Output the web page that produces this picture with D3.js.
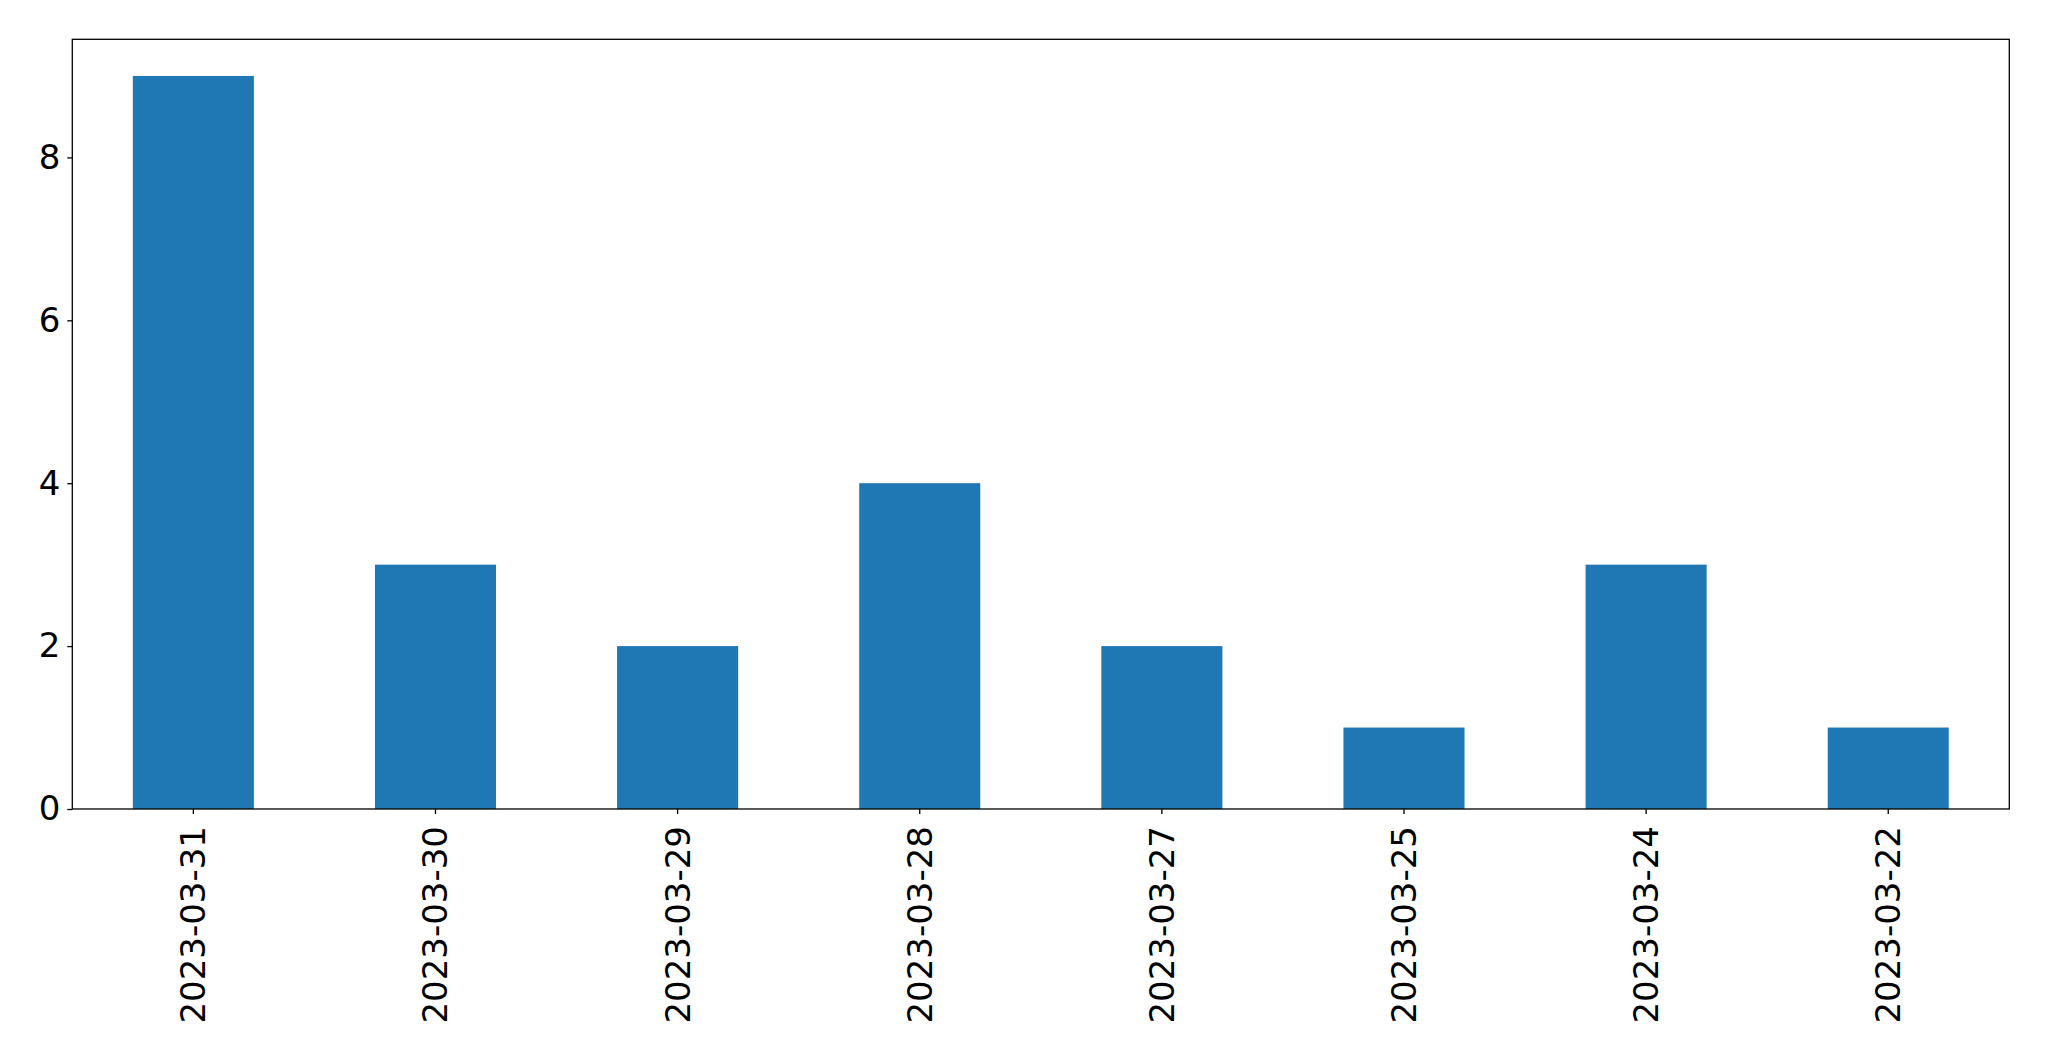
<!DOCTYPE html>
<html><head><meta charset="utf-8">
<script src="https://cdn.jsdelivr.net/npm/d3@7"></script>
<style>body{margin:0;background:#fff;} svg{display:block;}</style>
</head><body>
<script>
const categories = ["2023-03-31","2023-03-30","2023-03-29","2023-03-28","2023-03-27","2023-03-25","2023-03-24","2023-03-22"];
const values = [9,3,2,4,2,1,3,1];
const yTicks = [0,2,4,6,8];

const W = 2049, H = 1061;
const m = {left:72.3, top:39.3, right:2049-2009.3, bottom:1061-809};
const svg = d3.select("body").append("svg").attr("width",W).attr("height",H);
const iw = W - m.left - m.right, ih = H - m.top - m.bottom;
const g = svg.append("g").attr("transform",`translate(${m.left},${m.top})`);

const x = d3.scaleBand().domain(categories).range([0,iw]).paddingInner(0.5).paddingOuter(0.25);
const y = d3.scaleLinear().domain([0,9.45]).range([ih,0]);

g.selectAll("rect.bar").data(values).join("rect").attr("class","bar")
  .attr("x",(d,i)=>x(categories[i])).attr("width",x.bandwidth())
  .attr("y",d=>y(d)).attr("height",d=>ih-y(d)).attr("fill","#1f77b4");

const font = "DejaVu Sans, sans-serif";
const ya = g.append("g").call(d3.axisLeft(y).tickValues(yTicks).tickSize(5).tickPadding(7).tickFormat(d3.format("d")));
ya.select(".domain").remove();
ya.selectAll("line").attr("stroke","#000").attr("stroke-width",1.3);
ya.selectAll("text").attr("font-family",font).attr("font-size",34).attr("fill","#000");

const xa = g.append("g").attr("transform",`translate(0,${ih})`).call(d3.axisBottom(x).tickSize(5).tickPadding(0));
xa.select(".domain").remove();
xa.selectAll("line").attr("stroke","#000").attr("stroke-width",1.3);
xa.selectAll("text").attr("font-family",font).attr("font-size",34).attr("fill","#000")
  .attr("text-anchor","end").attr("dy",null).attr("y",0)
  .attr("transform","translate(0,17) rotate(-90)").attr("dominant-baseline","central");

g.append("rect").attr("x",0).attr("y",0).attr("width",iw).attr("height",ih)
  .attr("fill","none").attr("stroke","#000").attr("stroke-width",1.3);
</script>
</body></html>
